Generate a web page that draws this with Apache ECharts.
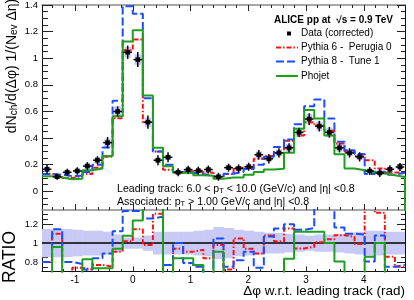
<!DOCTYPE html>
<html><head><meta charset="utf-8">
<script src="https://cdn.jsdelivr.net/npm/echarts@6/dist/echarts.min.js"></script>
<style>html,body{margin:0;padding:0;background:#fff}#c{width:414px;height:300px}</style>
</head><body><div id="c"></div>
<script>
// ---- data ----
const nBins = 36;
const xMin = -Math.PI / 2, xMax = 3 * Math.PI / 2;
const dataVals = [0.166,0.110,0.143,0.153,0.190,0.234,0.366,0.600,1.045,0.990,0.520,0.234,0.256,0.143,0.163,0.156,0.164,0.110,0.178,0.172,0.185,0.275,0.245,0.289,0.327,0.443,0.543,0.490,0.443,0.327,0.289,0.259,0.153,0.138,0.166,0.183];
const dataStat = [0.034,0.023,0.026,0.028,0.030,0.030,0.042,0.038,0.050,0.056,0.050,0.038,0.038,0.030,0.030,0.030,0.030,0.030,0.030,0.030,0.030,0.035,0.035,0.035,0.035,0.035,0.044,0.040,0.040,0.035,0.035,0.035,0.030,0.030,0.030,0.030];
const dataSys = [0.020,0.015,0.018,0.018,0.020,0.025,0.030,0.040,0.040,0.040,0.035,0.020,0.020,0.015,0.015,0.015,0.015,0.015,0.018,0.018,0.018,0.025,0.022,0.025,0.028,0.035,0.038,0.035,0.035,0.028,0.025,0.022,0.015,0.015,0.018,0.018];
const pythia6 = [0.130,0.120,0.100,0.113,0.130,0.178,0.260,0.550,1.060,1.140,0.520,0.300,0.163,0.138,0.152,0.145,0.140,0.110,0.130,0.178,0.175,0.245,0.265,0.290,0.380,0.420,0.520,0.495,0.455,0.360,0.300,0.265,0.234,0.172,0.142,0.140];
const pythia8 = [0.130,0.125,0.114,0.118,0.145,0.200,0.330,0.680,1.390,1.335,0.700,0.300,0.200,0.145,0.140,0.130,0.115,0.112,0.133,0.148,0.168,0.200,0.260,0.334,0.390,0.505,0.640,0.690,0.548,0.372,0.309,0.280,0.130,0.148,0.125,0.140];
const phojet = [0.113,0.104,0.091,0.095,0.158,0.172,0.265,0.565,1.125,1.210,0.720,0.327,0.188,0.140,0.138,0.121,0.118,0.095,0.105,0.105,0.125,0.146,0.165,0.170,0.290,0.470,0.611,0.548,0.420,0.278,0.171,0.158,0.144,0.135,0.121,0.108];
const ratioP6 = [0.80,1.10,0.66,0.74,0.72,0.77,0.75,0.91,1.02,1.147,0.98,1.31,0.64,0.94,0.91,0.93,0.84,0.98,0.72,1.05,0.94,0.89,1.08,1.02,1.154,0.944,0.96,1.01,1.04,1.084,1.066,0.99,1.50,1.32,0.857,0.75];
const ratioP8 = [0.80,1.147,0.80,0.78,0.72,0.84,0.89,1.126,1.34,1.34,1.26,1.28,0.77,1.00,0.79,0.75,0.66,1.05,0.75,0.82,0.91,0.74,1.07,1.154,1.20,1.14,1.16,1.50,1.50,1.165,1.10,1.09,0.805,1.08,0.75,0.77];
const ratioPh = [0.60,0.96,0.60,0.60,0.83,0.735,0.735,0.94,1.077,1.24,1.50,1.50,0.60,0.84,0.84,0.77,0.60,0.91,0.60,0.60,0.60,0.60,0.60,0.60,0.835,1.12,1.12,1.12,1.00,0.805,0.60,0.60,0.857,1.00,0.60,0.60];
const ratioBand = [0.15,0.15,0.15,0.14,0.13,0.13,0.12,0.09,0.06,0.06,0.08,0.12,0.12,0.12,0.12,0.13,0.14,0.17,0.16,0.14,0.13,0.12,0.11,0.11,0.10,0.09,0.08,0.09,0.09,0.10,0.11,0.12,0.13,0.13,0.12,0.12];
const xTickLabels = [-1, 0, 1, 2, 3, 4];
const yTopTicks = [0, 0.2, 0.4, 0.6, 0.8, 1, 1.2, 1.4];
const yRatioTicks = [0.8, 1, 1.2];
const legendNames = ['Data (corrected)', 'Pythia 6 -  Perugia 0', 'Pythia 8 -  Tune 1', 'Phojet'];

// ---- geometry / style ----
const FONT = "'Liberation Sans', Arial, Helvetica, sans-serif";
const yTopMin = -0.14, yTopMax = 1.4, yRMin = 0.7, yRMax = 1.35;
const RED = '#ff1010', BLUE = '#1a4dff', GREEN = '#1f9f1f';
const DASH_RED = [5, 2, 1.5, 2], DASH_BLUE = [8, 3];
const binW = (xMax - xMin) / nBins;
const edge = i => xMin + i * binW;
const center = i => xMin + (i + 0.5) * binW;

function range(a, b, step) { const out = []; for (let v = a; v <= b + 1e-9; v += step) out.push(+v.toFixed(4)); return out; }
const xMinor = range(-1.4, 4.6, 0.2).filter(v => Math.abs(v - Math.round(v)) > 1e-6);
const yTopMinor = range(-0.1, 1.35, 0.05).filter(v => !yTopTicks.some(t => Math.abs(t - v) < 1e-6));
const yRMinor = range(0.75, 1.3, 0.05).filter(v => !yRatioTicks.some(t => Math.abs(t - v) < 1e-6));

function hist(vals, closeTo) {
  const pts = vals.map((v, i) => [edge(i), v]);
  pts.push([edge(nBins), vals[nBins - 1]]);
  if (closeTo !== undefined) pts.push([edge(nBins), closeTo]);
  return pts;
}

const fmt = v => String(+(+v).toFixed(2));

function xAx(grid, position, ticks, len, opts) {
  return Object.assign({
    type: 'value', gridIndex: grid, position, min: xMin, max: xMax,
    axisLine: { show: false, onZero: false },
    axisTick: { show: true, inside: true, length: len, customValues: ticks, lineStyle: { color: '#222', width: 1 } },
    axisLabel: { show: false }, splitLine: { show: false }
  }, opts || {});
}
function yAx(grid, position, mn, mx, ticks, len, opts) {
  return Object.assign({
    type: 'value', gridIndex: grid, position, min: mn, max: mx,
    axisLine: { show: false, onZero: false },
    axisTick: { show: true, inside: true, length: len, customValues: ticks, lineStyle: { color: '#222', width: 1 } },
    axisLabel: { show: false }, splitLine: { show: false }
  }, opts || {});
}
const line = (color, width) => ({ show: true, onZero: false, lineStyle: { color, width } });

const xAxis = [
  xAx(0, 'bottom', xTickLabels, 6, { axisLine: line('#8a8a8a', 1.5) }), //0
  xAx(0, 'bottom', xMinor, 3),                                          //1
  xAx(0, 'top', xTickLabels, 6, { axisLine: line('#8a8a8a', 1.5) }),    //2
  xAx(0, 'top', xMinor, 3),                                             //3
  xAx(1, 'bottom', xTickLabels, 5, {
    axisLine: line('#111', 1),
    axisLabel: { show: true, customValues: xTickLabels, formatter: fmt, fontSize: 10, fontFamily: FONT, color: '#000', margin: 4 }
  }),                                                                   //4
  xAx(1, 'bottom', xMinor, 2.5)                                         //5
];
const yAxis = [
  yAx(0, 'left', yTopMin, yTopMax, yTopTicks, 11, {
    axisLine: line('#111', 1),
    axisLabel: { show: true, customValues: yTopTicks, formatter: fmt, fontSize: 9.5, fontFamily: FONT, color: '#000', margin: 4 }
  }),                                                             //0
  yAx(0, 'left', yTopMin, yTopMax, yTopMinor, 6),                 //1
  yAx(0, 'right', yTopMin, yTopMax, yTopTicks, 8, { axisLine: line('#111', 1) }), //2
  yAx(0, 'right', yTopMin, yTopMax, yTopMinor, 4),                //3
  yAx(1, 'left', yRMin, yRMax, yRatioTicks, 11, {
    axisLine: line('#111', 1),
    axisLabel: { show: true, customValues: yRatioTicks, formatter: fmt, fontSize: 9.5, fontFamily: FONT, color: '#000', margin: 4 }
  }),                                                             //4
  yAx(1, 'left', yRMin, yRMax, yRMinor, 6),                       //5
  yAx(1, 'right', yRMin, yRMax, yRatioTicks, 8, { axisLine: line('#111', 1) }), //6
  yAx(1, 'right', yRMin, yRMax, yRMinor, 4)                       //7
];

function stepLine(name, vals, color, dash, xi, yi, z, closeTo) {
  return {
    name, type: 'line', xAxisIndex: xi, yAxisIndex: yi, data: hist(vals, closeTo), step: 'end',
    showSymbol: false, symbol: 'none', clip: true, z, silent: true, animation: false,
    lineStyle: { color, width: 2, type: dash }
  };
}

const sysBoxes = {
  type: 'custom', xAxisIndex: 0, yAxisIndex: 0, z: 1, clip: true, animation: false, silent: true,
  data: dataVals.map((v, i) => [center(i), v, dataSys[i]]),
  renderItem(params, api) {
    const c = api.value(0), v = api.value(1), s = api.value(2);
    const a = api.coord([c - 0.055, v + s]), b = api.coord([c + 0.055, v - s]);
    return { type: 'rect', shape: { x: a[0], y: a[1], width: b[0] - a[0], height: b[1] - a[1] }, style: { fill: '#c6c6f2' } };
  }
};
const dataPoints = {
  type: 'custom', xAxisIndex: 0, yAxisIndex: 0, z: 10, clip: true, animation: false, silent: true,
  data: dataVals.map((v, i) => [center(i), v, dataStat[i]]),
  renderItem(params, api) {
    const c = api.value(0), v = api.value(1), e = api.value(2);
    const p = api.coord([c, v]), t = api.coord([c, v + e]), b = api.coord([c, v - e]);
    const l = api.coord([c - 0.075, v]), r = api.coord([c + 0.075, v]);
    return { type: 'group', children: [
      { type: 'line', shape: { x1: p[0], y1: t[1], x2: p[0], y2: b[1] }, style: { stroke: '#000', lineWidth: 1.5 } },
      { type: 'line', shape: { x1: l[0], y1: p[1], x2: r[0], y2: p[1] }, style: { stroke: '#000', lineWidth: 1.5 } },
      { type: 'rect', shape: { x: p[0] - 2.3, y: p[1] - 2.3, width: 4.6, height: 4.6 }, style: { fill: '#000' } }
    ] };
  }
};
const band = {
  type: 'custom', xAxisIndex: 4, yAxisIndex: 4, z: 1, clip: true, animation: false, silent: true,
  data: ratioBand.map((h, i) => [edge(i), edge(i + 1), h]),
  renderItem(params, api) {
    const x0 = api.value(0), x1 = api.value(1), h = api.value(2);
    const a = api.coord([x0, 1 + h]), b = api.coord([x1, 1 - h]);
    return { type: 'rect', shape: { x: a[0], y: a[1], width: b[0] - a[0] + 0.5, height: b[1] - a[1] }, style: { fill: '#c9c9f6' } };
  }
};
const unity = {
  type: 'line', xAxisIndex: 4, yAxisIndex: 4, data: [[xMin, 1], [xMax, 1]], showSymbol: false, symbol: 'none',
  z: 3, lineStyle: { color: '#000', width: 1.5 }, animation: false, silent: true
};

const series = [
  sysBoxes,
  stepLine('p6', pythia6, RED, DASH_RED, 0, 0, 4),
  stepLine('p8', pythia8, BLUE, DASH_BLUE, 0, 0, 5),
  stepLine('ph', phojet, GREEN, 'solid', 0, 0, 6, -1),
  dataPoints,
  band, unity,
  stepLine('rp6', ratioP6, RED, DASH_RED, 4, 4, 4),
  stepLine('rp8', ratioP8, BLUE, DASH_BLUE, 4, 4, 5),
  stepLine('rph', ratioPh, GREEN, 'solid', 4, 4, 6)
];

// ---- texts ----
const T = (x, y, text, size, extra) => Object.assign({
  type: 'text', x, y, z: 100, silent: true,
  style: Object.assign({ text, fontSize: size, fontFamily: FONT, fill: '#000', align: 'left', verticalAlign: 'middle' }, (extra && extra.style) || {})
}, extra && extra.el ? extra.el : {});

function richText(x, y, text, size, subSize, rotation, align) {
  const lh = Math.round(size * 1.3);
  return {
    type: 'text', x, y, rotation: rotation || 0, z: 100, silent: true,
    style: {
      text, fontFamily: FONT, fill: '#000', align: align || 'left', verticalAlign: 'middle',
      rich: {
        m: { fontSize: size, fontFamily: FONT, lineHeight: lh, verticalAlign: 'bottom', fill: '#000' },
        s: { fontSize: subSize, fontFamily: FONT, lineHeight: Math.round(subSize), padding: [lh - Math.round(subSize), 0, 0, 0], verticalAlign: 'bottom', fill: '#000' }
      }
    }
  };
}

const LX0 = 276, LX1 = 298, LT = 301;
const legY = [33.5, 47.5, 61.5, 76];
const graphic = [
  T(274, 20, 'ALICE pp at  √s = 0.9 TeV', 10, { style: { fontWeight: 'bold' } }),
  { type: 'rect', z: 100, silent: true, shape: { x: 287, y: legY[0] - 2, width: 4, height: 4 }, style: { fill: '#000' } },
  { type: 'line', z: 100, silent: true, shape: { x1: LX0, y1: legY[1], x2: LX1, y2: legY[1] }, style: { stroke: RED, lineWidth: 2, lineDash: DASH_RED } },
  { type: 'line', z: 100, silent: true, shape: { x1: LX0, y1: legY[2], x2: LX1, y2: legY[2] }, style: { stroke: BLUE, lineWidth: 2, lineDash: DASH_BLUE } },
  { type: 'line', z: 100, silent: true, shape: { x1: LX0, y1: legY[3], x2: LX1, y2: legY[3] }, style: { stroke: GREEN, lineWidth: 2 } },
  T(LT, legY[0], legendNames[0], 10),
  T(LT, legY[1], legendNames[1], 10),
  T(LT, legY[2], legendNames[2], 10),
  T(LT, legY[3], legendNames[3], 10),
  richText(117, 188, '{m|Leading track: 6.0 < p}{s|T}{m| < 10.0 (GeV/c) and |η| <0.8}', 10.6, 7.5),
  richText(117, 200.5, '{m|Associated: p}{s|T}{m| > 1.00 GeV/c and |η| <0.8}', 10.6, 7.5),
  richText(10, 66, '{m|dN}{s|ch}{m|/d(Δφ) 1/(N}{s|ev}{m| Δη)}', 14, 10, Math.PI / 2, 'center'),
  T(10, 257, 'RATIO', 17.5, { el: { rotation: Math.PI / 2 }, style: { align: 'center' } }),
  T(405, 291, 'Δφ w.r.t. leading track (rad)', 13.5, { style: { align: 'right' } })
];

const chart = echarts.init(document.getElementById('c'), null, { renderer: 'canvas' });
chart.setOption({
  animation: false,
  backgroundColor: '#fff',
  grid: [
    { left: 42, top: 5, width: 363, height: 205 },
    { left: 42, top: 210, width: 363, height: 61.5 }
  ],
  xAxis, yAxis, series, graphic
});
</script></body></html>
